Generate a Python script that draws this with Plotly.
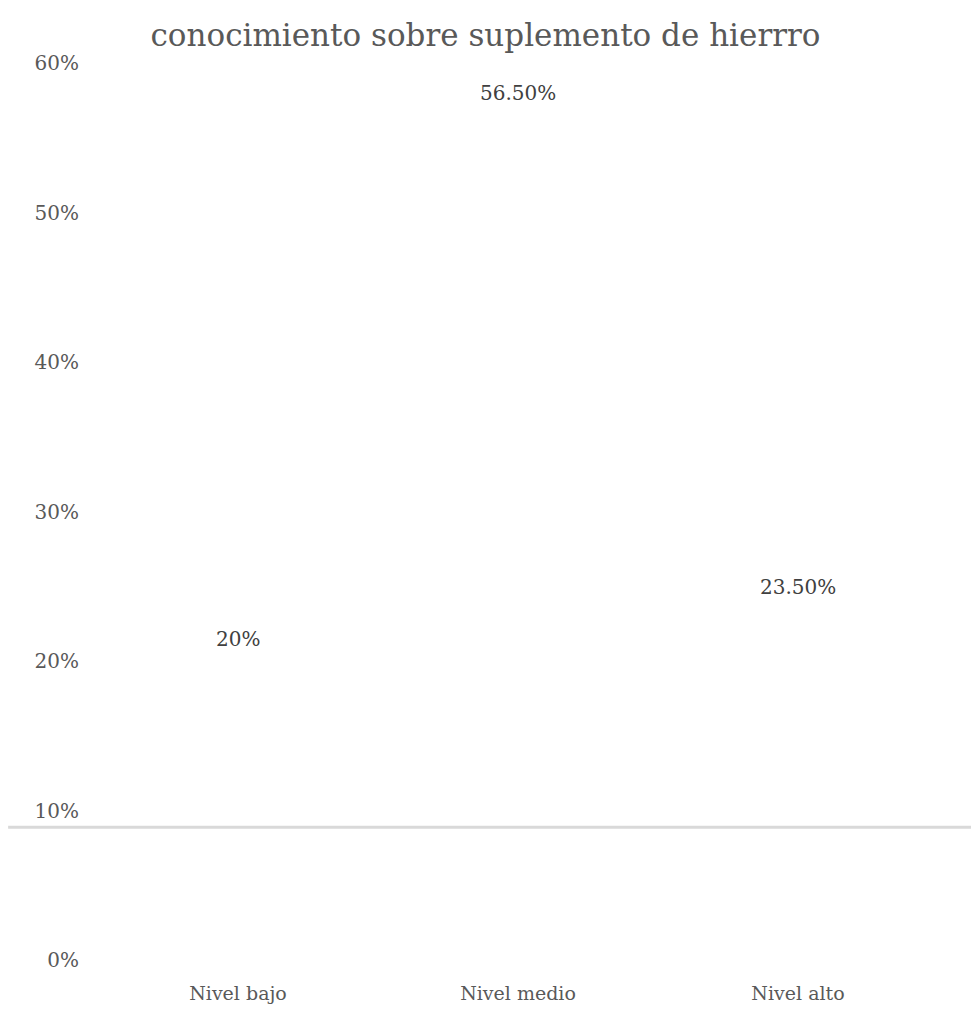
import plotly.graph_objects as go

categories = ["Nivel bajo", "Nivel medio", "Nivel alto"]
values = [0.20, 0.565, 0.235]
value_labels = ["20%", "56.50%", "23.50%"]
tick_vals = [0, 0.1, 0.2, 0.3, 0.4, 0.5, 0.6]
tick_text = ["0%", "10%", "20%", "30%", "40%", "50%", "60%"]

FONT = "DejaVu Serif"

fig = go.Figure()
fig.add_trace(go.Bar(
    x=categories, y=values,
    marker=dict(color="rgba(0,0,0,0)", line=dict(width=0)),
    hoverinfo="skip", showlegend=False,
))

for c, v, t in zip(categories, values, value_labels):
    fig.add_annotation(x=c, y=v, text=t, showarrow=False, yshift=22,
                       font=dict(family=FONT, size=20, color="#404040"))

fig.add_shape(type="line", xref="paper", yref="paper",
              x0=-0.107, x1=1.04, y0=0.148, y1=0.148,
              line=dict(color="#d9d9d9", width=3))

fig.update_layout(
    width=971, height=1012,
    margin=dict(l=98, r=33, t=63, b=52),
    paper_bgcolor="white", plot_bgcolor="white",
    title=dict(text="conocimiento sobre suplemento de hierrro", x=0.5, xanchor="center",
               y=0.965, yanchor="middle",
               font=dict(family=FONT, size=31, color="#595959")),
    font=dict(family=FONT, color="#595959", size=19),
    xaxis=dict(showgrid=False, zeroline=False, showline=False, automargin=False,
               ticks="outside", ticklen=16, tickcolor="rgba(0,0,0,0)",
               tickfont=dict(family=FONT, size=19, color="#595959")),
    yaxis=dict(range=[0, 0.6], tickvals=tick_vals, ticktext=tick_text, automargin=False,
               showgrid=False, zeroline=False, showline=False,
               ticks="outside", ticklen=14, tickcolor="rgba(0,0,0,0)",
               tickfont=dict(family=FONT, size=20, color="#595959")),
)

fig.write_html("out.html")
